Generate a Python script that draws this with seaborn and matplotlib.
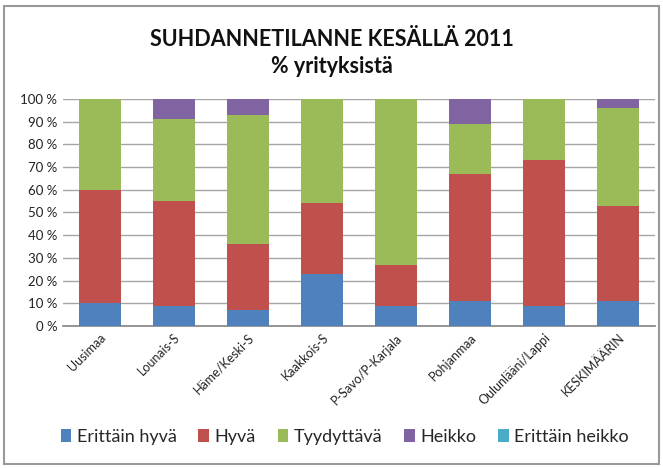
import numpy as np
import pandas as pd
import matplotlib
matplotlib.use("Agg")
import matplotlib.pyplot as plt
import seaborn as sns
from matplotlib.patches import Patch, Rectangle

# data (% of companies)
regions = ['Uusimaa', 'Lounais-S', 'Häme/Keski-S', 'Kaakkois-S', 'P-Savo/P-Karjala',
           'Pohjanmaa', 'Oulunlääni/Lappi', 'KESKIMÄÄRIN']
erittain_hyva = [10, 9, 7, 23, 9, 11, 9, 11]
hyva = [50, 46, 29, 31, 18, 56, 64, 42]
tyydyttava = [40, 36, 57, 46, 73, 22, 27, 43]
heikko = [0, 9, 7, 0, 0, 11, 0, 4]
erittain_heikko = [0, 0, 0, 0, 0, 0, 0, 0]

series = ['Erittäin hyvä', 'Hyvä', 'Tyydyttävä', 'Heikko', 'Erittäin heikko']
colors = ['#4F81BD', '#C0504D', '#9BBB59', '#8064A2', '#4BACC6']

df = pd.DataFrame({'Alue': regions, 'Erittäin hyvä': erittain_hyva, 'Hyvä': hyva,
                   'Tyydyttävä': tyydyttava, 'Heikko': heikko, 'Erittäin heikko': erittain_heikko})
cum = df[series].cumsum(axis=1)

sns.set_theme(style='white')
plt.rcParams['font.family'] = ['Lato', 'DejaVu Sans']

fig = plt.figure(figsize=(6.63, 4.68), dpi=100)
ax = fig.add_axes([63/663, 1-326/468, 592/663, 227/468])

# stacked bars: draw cumulative totals from the top series down
for name, col in reversed(list(zip(series, colors))):
    sns.barplot(x=df['Alue'], y=cum[name], color=col, width=0.57, ax=ax,
                saturation=1, linewidth=0, zorder=3)

ax.set_ylim(0, 100)
ax.set_xlim(-0.5, len(regions) - 0.5)
ax.set_yticks(np.arange(0, 101, 10))
ax.set_yticklabels([f'{v} %' for v in range(0, 101, 10)], fontsize=9.5, color='#222222')
ax.set_xticks(range(len(regions)))
ax.set_xticklabels(regions, rotation=45, ha='right', rotation_mode='anchor',
                   fontsize=9, color='#222222')
ax.tick_params(axis='both', length=0, pad=4)
ax.set_xlabel('')
ax.set_ylabel('')
ax.yaxis.grid(True, color='#A6A6A6', linewidth=1, zorder=0)
ax.set_axisbelow(True)
for s in ['top', 'right', 'left']:
    ax.spines[s].set_visible(False)
ax.spines['bottom'].set_color('#888888')

fig.text(0.5, 1-39/468, 'SUHDANNETILANNE KESÄLLÄ 2011', ha='center', va='center',
         fontsize=15.5, fontweight='bold', color='#111111')
fig.text(0.5, 1-67/468, '% yrityksistä', ha='center', va='center',
         fontsize=15.5, fontweight='bold', color='#111111')

handles = [Patch(facecolor=c, edgecolor='none', label=s) for s, c in zip(series, colors)]
fig.legend(handles=handles, loc='center', bbox_to_anchor=(0.52, 1-437/468), ncol=5,
           frameon=False, fontsize=13, handlelength=0.6, handleheight=0.7,
           handletextpad=0.3, columnspacing=1.2)

fig.patches.append(Rectangle((4/663, 4/468), 655/663, 458/468, transform=fig.transFigure,
                             fill=False, edgecolor='#999999', linewidth=1.5))

fig.savefig('out.png', dpi=100)
